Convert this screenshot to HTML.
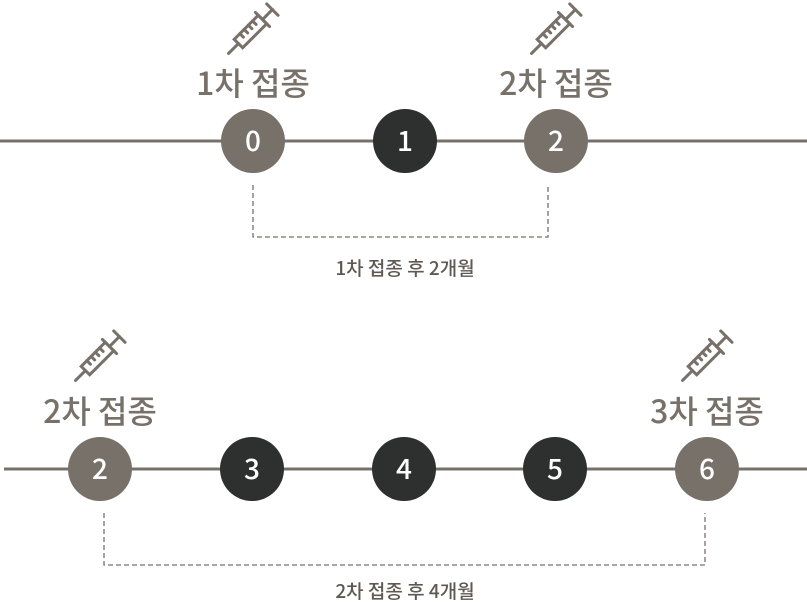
<!DOCTYPE html>
<html><head><meta charset="utf-8"><style>
body{margin:0;background:#fff;width:807px;height:603px;overflow:hidden}
text{font-family:"Noto Sans CJK KR","Liberation Sans",sans-serif;font-weight:500}
</style></head><body>
<svg width="807" height="603" viewBox="0 0 807 603">
<defs>
<g id="syr" fill="none" stroke="#78716a" stroke-width="3" stroke-linecap="round">
<line x1="-36" y1="0" x2="-22" y2="0"/>
<rect x="-22" y="-6" width="34" height="12"/>
<line x1="-14" y1="-6" x2="-14" y2="-1"/><line x1="-8" y1="-6" x2="-8" y2="-1"/><line x1="-2" y1="-6" x2="-2" y2="-1"/><line x1="4" y1="-6" x2="4" y2="-1"/>
<line x1="12" y1="-10" x2="12" y2="10"/>
<line x1="12" y1="0" x2="26" y2="0"/>
<line x1="26" y1="-8" x2="26" y2="8"/>
</g>
</defs>
<g stroke="#78716a" stroke-width="3">
<line x1="0" y1="141" x2="807" y2="141"/>
<line x1="4" y1="469" x2="807" y2="469"/>
</g>
<g stroke="#78716a" stroke-width="1.3" stroke-dasharray="5,3" fill="none">
<polyline points="253,185 253,237 548,237 548,185"/>
<polyline points="104,513 104,565 705,565 705,513"/>
</g>
<g font-size="28" fill="#fff" text-anchor="middle">
<circle cx="253" cy="141" r="32" fill="#78716a"/><text x="253" y="151">0</text>
<circle cx="405" cy="141" r="32" fill="#2d302f"/><text x="405" y="151">1</text>
<circle cx="556" cy="141" r="32" fill="#78716a"/><text x="556" y="151">2</text>
<circle cx="100" cy="469" r="32" fill="#78716a"/><text x="100" y="479">2</text>
<circle cx="252" cy="469" r="32" fill="#2d302f"/><text x="252" y="479">3</text>
<circle cx="404" cy="469" r="32" fill="#2d302f"/><text x="404" y="479">4</text>
<circle cx="555" cy="469" r="32" fill="#2d302f"/><text x="555" y="479">5</text>
<circle cx="707" cy="469" r="32" fill="#78716a"/><text x="707" y="479">6</text>
</g>
<g font-size="32" fill="#78716a" text-anchor="middle">
<text x="253" y="95">1차 접종</text>
<text x="556" y="95">2차 접종</text>
<text x="100" y="423">2차 접종</text>
<text x="707" y="423">3차 접종</text>
</g>
<g font-size="19" fill="#5f5953" text-anchor="middle">
<text x="405" y="275">1차 접종 후 2개월</text>
<text x="405" y="598">2차 접종 후 4개월</text>
</g>
<use href="#syr" transform="translate(254,28) rotate(-45)"/>
<use href="#syr" transform="translate(557,28) rotate(-45)"/>
<use href="#syr" transform="translate(101,355) rotate(-45)"/>
<use href="#syr" transform="translate(708,355) rotate(-45)"/>
</svg>
</body></html>
